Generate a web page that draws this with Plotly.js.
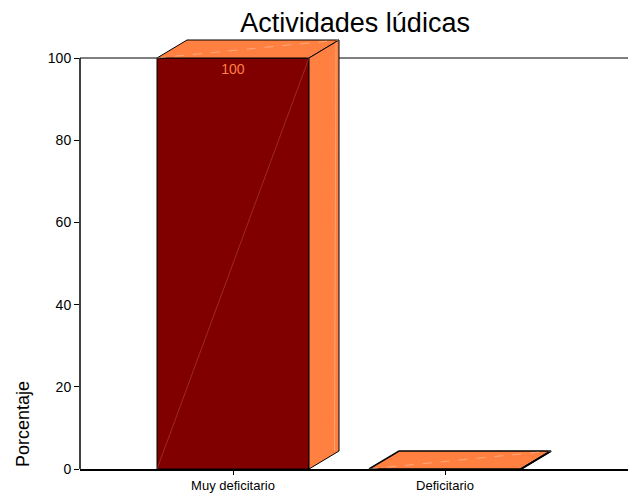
<!DOCTYPE html>
<html>
<head>
<meta charset="utf-8">
<script src="https://cdn.plot.ly/plotly-3.0.1.min.js"></script>
<style>html,body{margin:0;padding:0;background:#fff;}#chart{width:628px;height:493px;}</style>
</head>
<body>
<div id="chart"></div>
<script>
// Data
const categories = ["Muy deficitario", "Deficitario"];
const values = [100, 0];
const valueLabels = ["100", ""];
const yTicks = [0, 20, 40, 60, 80, 100];
const chartTitle = "Actividades lúdicas";
const yTitle = "Porcentaje";

// Style
const FONT = "Liberation Sans, Arial, sans-serif";
const frontColor = "#800000";
const sideColor = "#FF8040";
const barWidth = 0.717;
const depthX = 0.1415;   // 3D depth in x units
const depthY = 4.38;     // 3D depth in y units

const xs = categories.map((c, i) => i);
const traces = [];

// Front faces (real bars)
traces.push({
  type: "bar",
  x: xs,
  y: values,
  width: barWidth,
  marker: {color: frontColor, line: {color: "#000", width: 1}},
  text: valueLabels,
  textposition: "inside",
  insidetextanchor: "end",
  textfont: {color: sideColor, size: 14, family: FONT},
  hoverinfo: "skip",
  showlegend: false
});

// 3D faces computed from the data
xs.forEach((x, i) => {
  const v = values[i];
  const x0 = x - barWidth / 2, x1 = x + barWidth / 2;
  // top face
  traces.push({
    type: "scatter", mode: "lines", fill: "toself", fillcolor: sideColor,
    x: [x0, x0 + depthX, x1 + depthX, x1, x0],
    y: [v, v + depthY, v + depthY, v, v],
    line: {color: "#000", width: v === 0 ? 1.5 : 1},
    hoverinfo: "skip", showlegend: false
  });
  // right face
  traces.push({
    type: "scatter", mode: "lines", fill: "toself", fillcolor: sideColor,
    x: [x1, x1, x1 + depthX, x1 + depthX, x1],
    y: [0, v, v + depthY, depthY, 0],
    line: {color: "#000", width: v === 0 ? 2 : 1},
    hoverinfo: "skip", showlegend: false
  });
  // faint highlight diagonals
  traces.push({
    type: "scatter", mode: "lines",
    x: [x0, x1 + depthX],
    y: [v, v + depthY],
    line: {color: "rgba(255,230,210,0.7)", width: 0.6, dash: "dash"},
    hoverinfo: "skip", showlegend: false
  });
  if (v > 0) {
    traces.push({
      type: "scatter", mode: "lines",
      x: [x0, x1],
      y: [0, v],
      line: {color: "rgba(255,200,190,0.35)", width: 0.6},
      hoverinfo: "skip", showlegend: false
    });
    traces.push({
      type: "scatter", mode: "lines",
      x: [x1 + depthX * 0.9, x1 + depthX * 0.85],
      y: [v + depthY * 0.9, depthY],
      line: {color: "rgba(255,230,210,0.6)", width: 0.6},
      hoverinfo: "skip", showlegend: false
    });
  }
});

const plotLeft = 80, plotTop = 30, plotBottom = 24, W = 628, H = 493;
const plotH = H - plotTop - plotBottom;
const pxPerY = (H - plotBottom - 58) / 100;
const yTop = plotH / pxPerY;
const pxPerX = 212;
const xMin = -(233 - plotLeft) / pxPerX;
const xMax = xMin + (W - plotLeft) / pxPerX;

const layout = {
  width: W, height: H,
  margin: {l: plotLeft, r: 0, t: plotTop, b: plotBottom, pad: 0},
  paper_bgcolor: "#fff", plot_bgcolor: "#fff",
  font: {family: FONT, color: "#000"},
  title: {text: chartTitle, font: {size: 27, family: FONT, color: "#000"},
          x: 0.502, xref: "paper", xanchor: "center", y: 1 - 23 / H, yref: "container", yanchor: "middle"},
  showlegend: false,
  bargap: 0,
  xaxis: {
    range: [xMin, xMax], tickvals: xs, ticktext: categories,
    showline: true, linecolor: "#000", linewidth: 1.5,
    ticks: "outside", ticklen: 4, tickcolor: "#000",
    showgrid: false, zeroline: false,
    tickfont: {size: 13, family: FONT, color: "#000"}
  },
  yaxis: {
    range: [0, yTop], tickvals: yTicks, ticktext: yTicks.map(String),
    showline: false, ticks: "outside", ticklen: 5, tickcolor: "#000",
    showgrid: false, zeroline: false,
    tickfont: {size: 14, family: FONT, color: "#000"}
  },
  shapes: [
    {type: "line", xref: "paper", yref: "y", x0: 0, x1: 0, y0: 0, y1: 100,
     line: {color: "#000", width: 1.5}},
    {type: "line", xref: "paper", yref: "y", x0: 0, x1: 1, y0: 100, y1: 100,
     line: {color: "#555", width: 1.5}, layer: "below"}
  ],
  annotations: [
    {text: yTitle, textangle: -90, xref: "paper", x: 0, xanchor: "right", xshift: -45,
     yref: "y", y: 0, yanchor: "bottom", showarrow: false,
     font: {size: 18, family: FONT, color: "#000"}}
  ]
};

Plotly.newPlot("chart", traces, layout, {displayModeBar: false, staticPlot: true});
</script>
</body>
</html>
